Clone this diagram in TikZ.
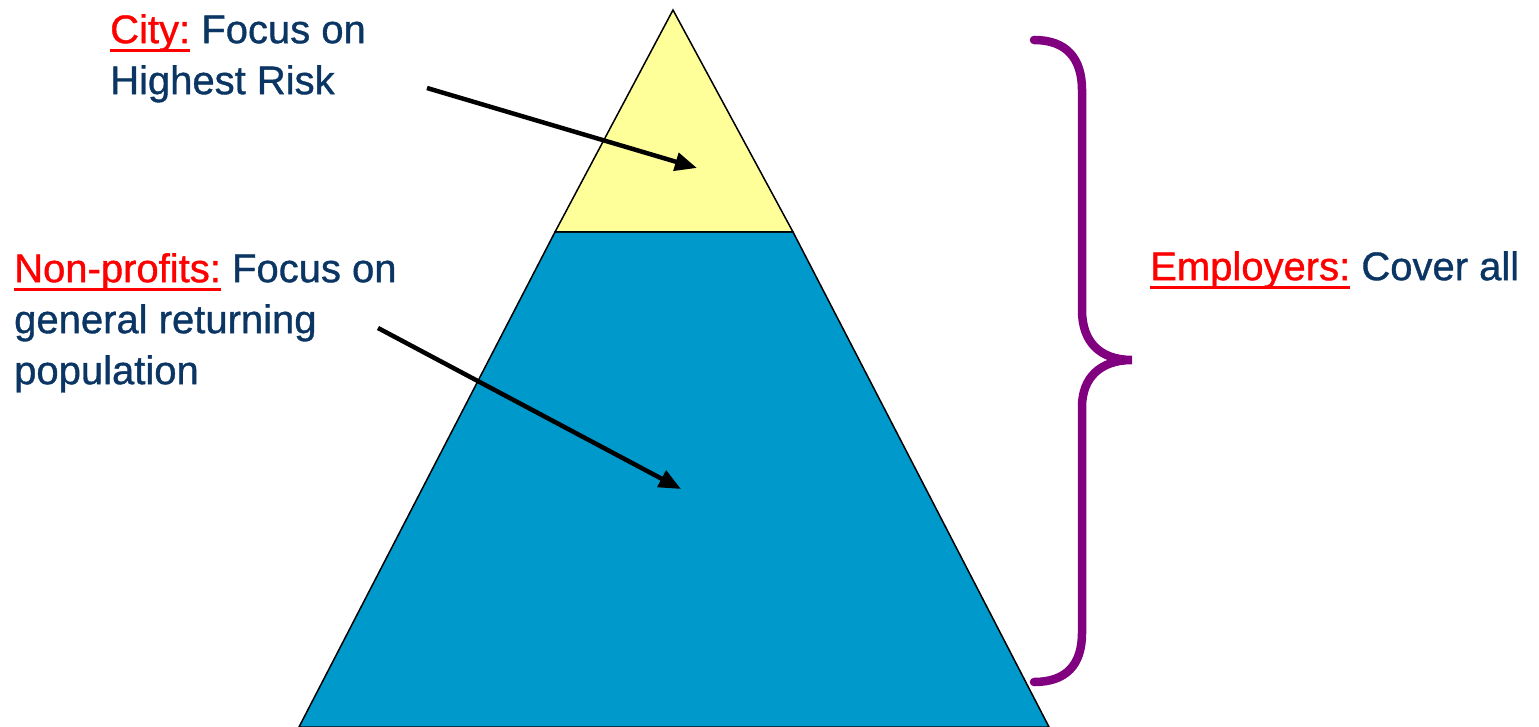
\documentclass[tikz,border=0pt]{standalone}
\usepackage{fontspec}
\setmainfont{Liberation Sans}
\newfontfamily\tah{Liberation Sans}[FakeBold=0.9]
\usetikzlibrary{arrows.meta}
\definecolor{navy}{RGB}{11,54,100}
\definecolor{redl}{RGB}{255,0,0}
\definecolor{pyellow}{RGB}{255,255,153}
\definecolor{pblue}{RGB}{0,153,204}
\definecolor{bracepurple}{RGB}{128,0,128}
\newcommand\redlabel[1]{\textcolor{redl}{\setbox0\hbox{#1}\rlap{\rule[-8.5pt]{\wd0}{3pt}}\box0}}
\tikzset{
  lbl/.style={anchor=north west, inner sep=0pt, align=left, text=navy,
    font=\tah\fontsize{40}{51}\selectfont},
  pointer/.style={line width=4.5pt, -{Triangle[length=22pt,width=18pt]}},
  piece/.style={draw=black, line width=1.5pt, line join=miter},
}
\begin{document}
\begin{tikzpicture}[x=1pt,y=-1pt]
\useasboundingbox (0,0) rectangle (1539,727);
% pyramid
\path[piece, fill=pblue] (555,232) -- (793,232) -- (1049,727) -- (299,727) -- cycle;
\path[piece, fill=pyellow] (673,10) -- (793,232) -- (555,232) -- cycle;
\coordinate (top) at (697,168);
\coordinate (mid) at (681,489);
% labels
\node[lbl] (city) at (110,14) {\redlabel{City:} Focus on\\Highest Risk};
\node[lbl] (np) at (14,253) {\redlabel{Non-profits:} Focus on\\general returning\\population};
\node[lbl] (emp) at (1150,251) {\redlabel{Employers:} Cover all};
\coordinate (cityfrom) at (427,88);
\coordinate (npfrom) at (378,328);
\draw[pointer] (cityfrom) -- (top);
\draw[pointer] (npfrom) -- (mid);
% brace
\draw[bracepurple, line width=8.5pt, line cap=round]
  (1034,40) .. controls (1066,40) and (1082,58) .. (1082,90) -- (1082,310)
  .. controls (1082,342) and (1100,360) .. (1132,360)
  .. controls (1100,360) and (1082,378) .. (1082,407) -- (1082,633)
  .. controls (1082,665) and (1066,682) .. (1034,682);
\end{tikzpicture}
\end{document}
